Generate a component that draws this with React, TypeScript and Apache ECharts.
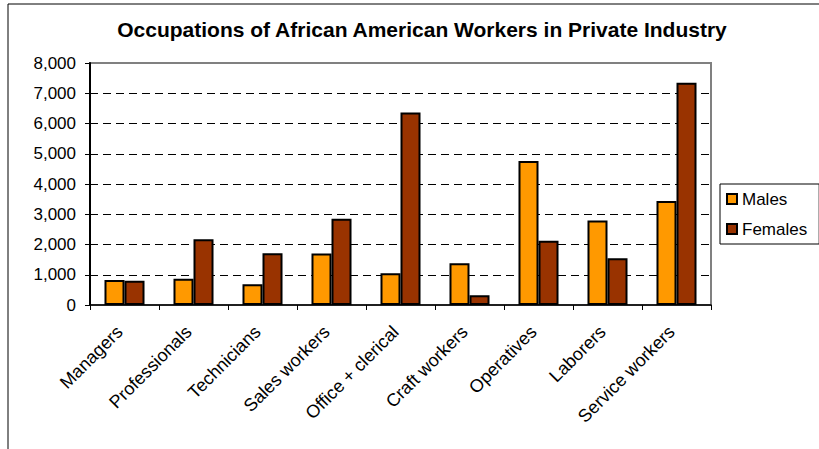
import React, { useEffect, useRef } from "react";
import * as echarts from "echarts";

const categories = [
  "Managers",
  "Professionals",
  "Technicians",
  "Sales workers",
  "Office + clerical",
  "Craft workers",
  "Operatives",
  "Laborers",
  "Service workers",
];
const males = [830, 870, 690, 1700, 1050, 1380, 4760, 2790, 3440];
const females = [800, 2170, 1710, 2850, 6360, 320, 2120, 1545, 7350];
const yTicks = [0, 1000, 2000, 3000, 4000, 5000, 6000, 7000, 8000];

export default function App() {
  const ref = useRef<HTMLDivElement>(null);
  useEffect(() => {
    if (!ref.current) return;
    const chart = echarts.init(ref.current, null, { renderer: "svg" });
    const font = "Arial, 'Liberation Sans', sans-serif";
    chart.setOption({
      animation: false,
      backgroundColor: "#ffffff",
      textStyle: { fontFamily: font },
      title: {
        text: "Occupations of African American Workers in Private Industry",
        left: 417,
        top: 14,
        textAlign: "center",
        textStyle: { fontSize: 21, fontWeight: "bold", color: "#000", fontFamily: font },
      },
      graphic: [
        {
          type: "rect",
          shape: { x: 8, y: 4, width: 840, height: 480 },
          style: { fill: "none", stroke: "#000", lineWidth: 1 },
          silent: true,
        },
      ],
      legend: {
        orient: "vertical",
        left: 720,
        top: 184,
        padding: [6, 12, 6, 6],
        itemGap: 12,
        itemWidth: 10,
        itemHeight: 10,
        borderColor: "#000",
        borderWidth: 1,
        icon: "rect",
        textStyle: { fontSize: 17, color: "#000", lineHeight: 18, fontFamily: font },
        data: ["Males", "Females"],
      },
      grid: {
        left: 90,
        right: 108,
        top: 63,
        bottom: 144,
        show: true,
        borderColor: "#808080",
        borderWidth: 2,
        backgroundColor: "transparent",
      },
      xAxis: {
        type: "category",
        data: categories,
        axisLine: { lineStyle: { color: "#000", width: 1.5 } },
        axisTick: { show: true, length: 5, lineStyle: { color: "#000" } },
        axisLabel: {
          rotate: 45,
          fontSize: 18,
          color: "#000",
          margin: 19,
          padding: [0, 7, 0, 0],
          fontFamily: font,
          interval: 0,
        },
      },
      yAxis: {
        type: "value",
        min: yTicks[0],
        max: yTicks[yTicks.length - 1],
        interval: 1000,
        axisLine: { show: true, lineStyle: { color: "#000", width: 2 } },
        axisTick: { show: true, length: 5, lineStyle: { color: "#000" } },
        axisLabel: {
          fontSize: 17,
          color: "#000",
          margin: 14,
          fontFamily: font,
          formatter: (v: number) => v.toLocaleString("en-US"),
        },
        splitLine: {
          show: true,
          showMinLine: false,
          showMaxLine: false,
          lineStyle: { color: "#000", type: [8, 5], width: 1 },
        },
      },
      series: [
        {
          name: "Males",
          type: "bar",
          data: males,
          barGap: "0%",
          barCategoryGap: "42%",
          itemStyle: { color: "#FF9900", borderColor: "#000", borderWidth: 2 },
        },
        {
          name: "Females",
          type: "bar",
          data: females,
          barGap: "0%",
          barCategoryGap: "42%",
          itemStyle: { color: "#993300", borderColor: "#000", borderWidth: 2 },
        },
      ],
    });
    return () => chart.dispose();
  }, []);
  return (
    <div
      ref={ref}
      style={{ position: "fixed", left: 0, top: 0, width: 819, height: 449 }}
    />
  );
}
